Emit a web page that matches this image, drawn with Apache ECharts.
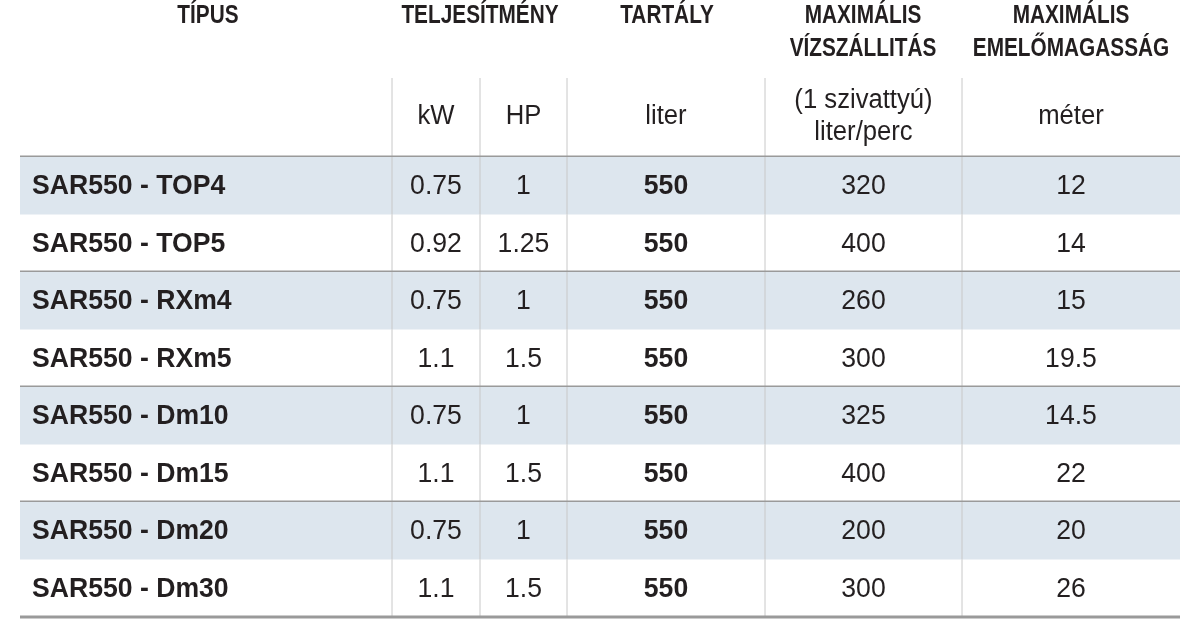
<!DOCTYPE html>
<html><head><meta charset="utf-8">
<script src="https://cdn.jsdelivr.net/npm/echarts@6/dist/echarts.min.js"></script>
<style>html,body{margin:0;background:#fff}#c{width:1200px;height:635px}</style>
</head><body><div id="c"></div>
<script>
const types=["SAR550 - TOP4","SAR550 - TOP5","SAR550 - RXm4","SAR550 - RXm5","SAR550 - Dm10","SAR550 - Dm15","SAR550 - Dm20","SAR550 - Dm30"];
const kw=["0.75","0.92","0.75","1.1","0.75","1.1","0.75","1.1"];
const hp=["1","1.25","1","1.5","1","1.5","1","1.5"];
const tank=["550","550","550","550","550","550","550","550"];
const flow=["320","400","260","300","325","400","200","300"];
const head=["12","14","15","19.5","14.5","22","20","26"];
const headers=[["TÍPUS",""],["TELJESÍTMÉNY",""],["TARTÁLY",""],["MAXIMÁLIS","VÍZSZÁLLITÁS"],["MAXIMÁLIS","EMELŐMAGASSÁG"]];
const subHeaders=["kW","HP","liter","(1 szivattyú)\nliter/perc","méter"];

const colX=[20,392,480,567,765,962,1180];
const headCenters=[208,480,667,863,1071];
const top0=157,rowH=57.5;
const chart=echarts.init(document.getElementById('c'));
const rows=types.map((t,i)=>[i]);
const font='"Liberation Sans",Arial,sans-serif';
function renderRow(params,api){
  const i=api.value(0);
  const y0=api.coord([0,top0+i*rowH])[1], y1=api.coord([0,top0+(i+1)*rowH])[1];
  const cy=(y0+y1)/2+1;
  const ch=[];
  if(i%2===0) ch.push({type:'rect',shape:{x:colX[0],y:y0,width:colX[6]-colX[0],height:y1-y0},style:{fill:'#dde6ee'}});
  ch.push({type:'text',x:32,y:cy,scaleX:0.95,style:{text:types[i],x:0,y:0,verticalAlign:'middle',font:'bold 28px '+font,fill:'#231f20'}});
  const vals=[kw[i],hp[i],tank[i],flow[i],head[i]];
  vals.forEach((v,j)=>{
    ch.push({type:'text',x:(colX[j+1]+colX[j+2])/2,y:cy,scaleX:0.95,style:{text:v,x:0,y:0,align:'center',verticalAlign:'middle',font:(j===2?'bold ':'')+'28px '+font,fill:'#231f20'}});
  });
  for(let j=1;j<6;j++) ch.push({type:'line',shape:{x1:colX[j],y1:y0,x2:colX[j],y2:y1},style:{stroke:'#c8c8c8',lineWidth:1}});
  if(i%2===1) ch.push({type:'line',shape:{x1:colX[0],y1:y1,x2:colX[6],y2:y1},style:{stroke:'#9a9a9a',lineWidth:3}});
  return {type:'group',children:ch};
}
const g=[];
headers.forEach((h,j)=>{
  g.push({type:'text',x:headCenters[j],y:3,scaleX:0.8,style:{text:h[0],x:0,y:0,align:'center',font:'bold 26px '+font,fill:'#231f20'}});
  if(h[1]) g.push({type:'text',x:headCenters[j],y:36,scaleX:0.8,style:{text:h[1],x:0,y:0,align:'center',font:'bold 26px '+font,fill:'#231f20'}});
});
subHeaders.forEach((s,j)=>{
  g.push({type:'text',x:(colX[j+1]+colX[j+2])/2,y:117,scaleX:0.95,style:{text:s,x:0,y:0,align:'center',verticalAlign:'middle',font:'27px '+font,lineHeight:32,fill:'#231f20'}});
});
for(let j=1;j<6;j++) g.push({type:'line',shape:{x1:colX[j],y1:78,x2:colX[j],y2:157},style:{stroke:'#c8c8c8',lineWidth:1}});
g.push({type:'line',shape:{x1:20,y1:157,x2:1180,y2:157},style:{stroke:'#9a9a9a',lineWidth:3}});
chart.setOption({
  animation:false,
  grid:{left:0,right:0,top:0,bottom:0},
  xAxis:{type:'value',min:0,max:1200,show:false},
  yAxis:{type:'value',min:0,max:635,inverse:true,show:false},
  graphic:g,
  series:[{type:'custom',renderItem:renderRow,data:rows,encode:{x:[],y:[]}}]
});
</script></body></html>
